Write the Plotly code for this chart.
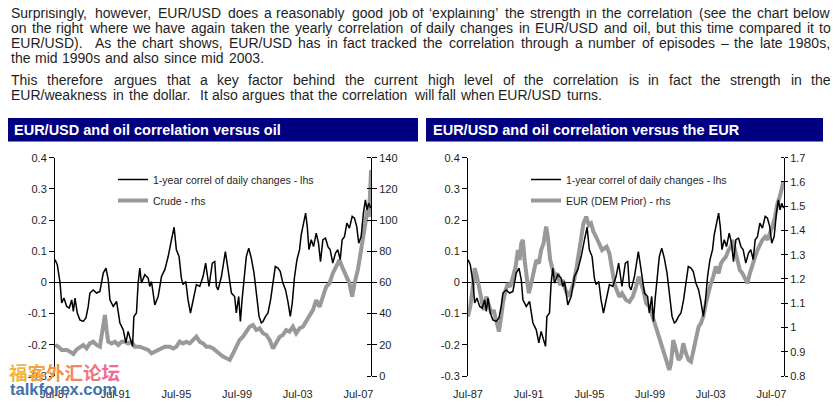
import plotly.graph_objects as go

# the page shows the figure with an 8 px body margin; the figure fills the rest of the 840x406 window
OFF = 8
W, H = 840 - OFF, 406 - OFF
FONT = "Liberation Sans, Arial, sans-serif"
TXT = "#1e1e1e"
GREY = "#999999"
NAVY = "#000080"

# ---------------- data ----------------
# 1-year correlation of daily changes EUR/USD vs oil (decimal years, value)
corr_t = [1987.50, 1987.65, 1987.83, 1987.94, 1988.09, 1988.27, 1988.44, 1988.60, 1988.71, 1988.82,
          1988.97, 1989.14, 1989.36, 1989.54, 1989.69, 1989.80, 1990.02, 1990.24, 1990.46, 1990.68,
          1990.86, 1991.01, 1991.12, 1991.34, 1991.56, 1991.78, 1992.00, 1992.17, 1992.32, 1992.43,
          1992.61, 1992.70, 1992.87, 1992.98, 1993.09, 1993.20, 1993.42, 1993.64, 1993.75, 1993.86,
          1994.08, 1994.30, 1994.52, 1994.74, 1994.96, 1995.18, 1995.35, 1995.50, 1995.68, 1995.83,
          1995.94, 1996.12, 1996.27, 1996.43, 1996.60, 1996.82, 1997.04, 1997.26, 1997.43, 1997.65,
          1997.87, 1998.03, 1998.14, 1998.25, 1998.47, 1998.58, 1998.73, 1998.91, 1999.13, 1999.34,
          1999.45, 1999.61, 1999.72, 1999.83, 1999.96, 2000.11, 2000.27, 2000.44, 2000.62, 2000.77,
          2000.95, 2001.10, 2001.21, 2001.38, 2001.54, 2001.71, 2001.87, 2002.02, 2002.20, 2002.35,
          2002.52, 2002.70, 2002.85, 2003.01, 2003.14, 2003.29, 2003.45, 2003.62, 2003.73, 2003.84,
          2004.02, 2004.13, 2004.24, 2004.39, 2004.54, 2004.72, 2004.87, 2005.00, 2005.16, 2005.33,
          2005.49, 2005.64, 2005.81, 2005.99, 2006.14, 2006.30, 2006.43, 2006.58, 2006.74, 2006.91,
          2007.09, 2007.24, 2007.39, 2007.52, 2007.68, 2007.83, 2007.96, 2008.07, 2008.18, 2008.31]
corr_v = [0.073, 0.057, -0.000, -0.066, -0.050, -0.077, -0.082, -0.056, -0.093, -0.050,
          -0.098, -0.120, -0.125, -0.114, -0.077, -0.034, -0.024, -0.034, -0.029, 0.030,
          0.046, 0.009, -0.056, -0.077, -0.061, -0.130, -0.152, -0.194, -0.157, -0.173,
          -0.205, -0.109, -0.098, -0.002, 0.046, -0.002, 0.025, 0.014, -0.013, 0.003,
          -0.072, -0.045, 0.019, 0.041, 0.083, 0.137, 0.177, 0.105, 0.083, 0.014,
          -0.007, 0.003, -0.056, -0.098, -0.056, -0.007, -0.013, 0.019, 0.062, -0.013,
          0.062, 0.067, -0.013, -0.024, 0.019, 0.057, 0.099, 0.041, -0.034, -0.045,
          -0.098, -0.045, -0.125, -0.056, 0.019, 0.083, 0.110, 0.078, 0.030, -0.034,
          -0.109, -0.130, -0.125, -0.109, -0.098, -0.056, -0.002, 0.051, 0.046, 0.035,
          -0.002, -0.024, -0.061, -0.109, -0.066, 0.019, 0.073, 0.105, 0.153, 0.179,
          0.222, 0.179, 0.105, 0.137, 0.115, 0.158, 0.126, 0.067, 0.137, 0.142,
          0.115, 0.105, 0.062, 0.094, 0.105, 0.073, 0.137, 0.147, 0.190, 0.174,
          0.212, 0.206, 0.179, 0.126, 0.147, 0.222, 0.265, 0.233, 0.254, 0.238]

# Crude oil, USD/bbl
crude_t = [1987.50, 1987.72, 1987.94, 1988.27, 1988.49, 1988.71, 1988.93, 1989.14, 1989.36, 1989.58,
           1989.80, 1990.02, 1990.24, 1990.46, 1990.57, 1990.68, 1990.79, 1990.90, 1991.01, 1991.23,
           1991.45, 1991.67, 1991.89, 1992.11, 1992.32, 1992.54, 1992.76, 1993.09, 1993.42, 1993.64,
           1993.86, 1994.08, 1994.30, 1994.52, 1994.74, 1995.07, 1995.29, 1995.50, 1995.72, 1995.94,
           1996.16, 1996.38, 1996.60, 1996.82, 1997.04, 1997.26, 1997.48, 1997.70, 1997.92, 1998.14,
           1998.36, 1998.58, 1998.80, 1999.02, 1999.24, 1999.45, 1999.67, 1999.89, 2000.11, 2000.33,
           2000.55, 2000.77, 2000.99, 2001.21, 2001.43, 2001.65, 2001.87, 2002.09, 2002.31, 2002.52,
           2002.74, 2002.96, 2003.18, 2003.40, 2003.62, 2003.84, 2004.06, 2004.28, 2004.50, 2004.72,
           2004.94, 2005.16, 2005.38, 2005.59, 2005.81, 2006.03, 2006.25, 2006.47, 2006.69, 2006.91,
           2007.09, 2007.24, 2007.46, 2007.68, 2007.83, 2007.96, 2008.07, 2008.18, 2008.27, 2008.33]
crude_v = [19.9, 18.8, 16.7, 16.7, 15.6, 14.1, 17.1, 18.8, 19.9, 17.7,
           20.9, 22.0, 19.9, 18.8, 25.2, 33.8, 39.1, 29.5, 22.0, 20.9,
           22.0, 19.9, 22.0, 22.0, 20.9, 22.0, 18.8, 18.8, 17.7, 16.7,
           14.5, 15.6, 16.7, 17.7, 18.8, 18.8, 17.7, 18.8, 22.0, 20.9,
           22.0, 20.9, 23.1, 25.2, 22.0, 20.9, 18.8, 18.8, 17.7, 15.6,
           14.1, 12.4, 11.3, 10.3, 14.5, 18.8, 23.1, 25.2, 28.4, 31.6,
           32.7, 29.5, 30.6, 27.4, 26.3, 23.1, 17.7, 22.0, 25.2, 26.3,
           29.5, 28.4, 31.6, 27.4, 30.6, 31.6, 34.8, 38.0, 42.3, 48.7,
           44.4, 50.9, 57.3, 59.4, 65.8, 70.1, 74.4, 69.0, 63.7, 59.4,
           50.9, 59.4, 67.9, 80.8, 87.2, 97.9, 106.4, 102.1, 117.1, 132.1]

# EUR/USD (DEM prior)
eur_t = [1987.50, 1987.65, 1987.79, 1987.94, 1988.09, 1988.27, 1988.38, 1988.53, 1988.71, 1988.88,
         1989.04, 1989.19, 1989.36, 1989.54, 1989.69, 1989.80, 1989.98, 1990.13, 1990.29, 1990.46,
         1990.64, 1990.79, 1990.90, 1991.01, 1991.12, 1991.23, 1991.34, 1991.51, 1991.67, 1991.82,
         1992.00, 1992.17, 1992.32, 1992.48, 1992.65, 1992.76, 1992.92, 1993.09, 1993.27, 1993.42,
         1993.57, 1993.75, 1993.93, 1994.14, 1994.30, 1994.45, 1994.63, 1994.74, 1994.85, 1994.96,
         1995.11, 1995.29, 1995.46, 1995.61, 1995.77, 1995.94, 1996.12, 1996.34, 1996.49, 1996.64,
         1996.82, 1997.00, 1997.15, 1997.30, 1997.48, 1997.65, 1997.92, 1998.14, 1998.36, 1998.58,
         1998.75, 1998.91, 1999.06, 1999.24, 1999.45, 1999.67, 1999.89, 2000.11, 2000.33, 2000.55,
         2000.77, 2000.88, 2001.03, 2001.21, 2001.38, 2001.54, 2001.69, 2001.87, 2002.04, 2002.20,
         2002.35, 2002.52, 2002.70, 2002.85, 2003.01, 2003.18, 2003.36, 2003.51, 2003.66, 2003.84,
         2004.02, 2004.17, 2004.32, 2004.50, 2004.67, 2004.83, 2004.94, 2005.11, 2005.27, 2005.42,
         2005.59, 2005.77, 2005.92, 2006.08, 2006.25, 2006.43, 2006.58, 2006.74, 2006.91, 2007.09,
         2007.24, 2007.39, 2007.57, 2007.74, 2007.90, 2008.05, 2008.18, 2008.29, 2008.33]
eur_v = [1.045, 1.086, 1.154, 1.244, 1.209, 1.154, 1.100, 1.072, 1.127, 1.086,
         1.058, 1.072, 1.031, 0.983, 1.045, 1.100, 1.154, 1.182, 1.168, 1.209,
         1.251, 1.319, 1.278, 1.347, 1.361, 1.278, 1.209, 1.141, 1.182, 1.223,
         1.278, 1.264, 1.319, 1.347, 1.416, 1.374, 1.278, 1.237, 1.209, 1.223,
         1.175, 1.196, 1.154, 1.127, 1.154, 1.182, 1.237, 1.278, 1.319, 1.374,
         1.429, 1.457, 1.422, 1.429, 1.395, 1.374, 1.347, 1.319, 1.326, 1.333,
         1.306, 1.223, 1.182, 1.154, 1.127, 1.141, 1.113, 1.106, 1.127, 1.168,
         1.209, 1.182, 1.154, 1.100, 1.086, 1.045, 1.003, 0.962, 0.921, 0.880,
         0.825, 0.852, 0.948, 0.907, 0.866, 0.880, 0.935, 0.893, 0.866, 0.859,
         0.907, 0.962, 1.003, 1.017, 1.045, 1.100, 1.154, 1.182, 1.209, 1.251,
         1.223, 1.264, 1.278, 1.292, 1.319, 1.333, 1.361, 1.319, 1.278, 1.237,
         1.223, 1.196, 1.182, 1.223, 1.264, 1.292, 1.319, 1.340, 1.361, 1.374,
         1.361, 1.388, 1.416, 1.457, 1.512, 1.539, 1.580, 1.601, 1.580]

x_tick_vals = [1987.5, 1991.5, 1995.5, 1999.5, 2003.5, 2007.5]
x_tick_text = ["Jul-87", "Jul-91", "Jul-95", "Jul-99", "Jul-03", "Jul-07"]
x_range = [1987.5, 2008.33]

lhs_vals = [0.4, 0.3, 0.2, 0.1, 0.0, -0.1, -0.2, -0.3]
lhs_text = ["0.4", "0.3", "0.2", "0.1", "0", "-0.1", "-0.2", "-0.3"]
crude_ticks = [0, 20, 40, 60, 80, 100, 120, 140]
crude_text = ["0", "20", "40", "60", "80", "100", "120", "140"]
eur_ticks = [0.8, 0.9, 1.0, 1.1, 1.2, 1.3, 1.4, 1.5, 1.6, 1.7]
eur_text = ["0.8", "0.9", "1", "1.1", "1.2", "1.3", "1.4", "1.5", "1.6", "1.7"]

titles = ["EUR/USD and oil correlation versus oil", "EUR/USD and oil correlation versus the EUR"]
corr_name = "1-year correl of daily changes - lhs"
crude_name = "Crude - rhs"
eur_name = "EUR (DEM Prior) - rhs"

para1 = [
    "Surprisingly, however, EUR/USD does a reasonably good job of \u2018explaining\u2019 the strength in the correlation (see the chart below",
    "on the right where we have again taken the yearly correlation of daily changes in EUR/USD and oil, but this time compared it to",
    "EUR/USD).  As the chart shows, EUR/USD has in fact tracked the correlation through a number of episodes \u2013 the late 1980s,",
    "the mid 1990s and also since mid 2003.",
]
para2 = [
    "This therefore argues that a key factor behind the current high level of the correlation is in fact the strength in the",
    "EUR/weakness in the dollar.  It also argues that the correlation will fall when EUR/USD turns.",
]

# ---------------- layout helpers (window pixel -> paper fraction) ----------------
def fx(x):
    return (x - OFF) / W


def fy(y):
    return 1 - (y - OFF) / H


AW = {' ': 278, 'a': 556, 'b': 556, 'c': 500, 'd': 556, 'e': 556, 'f': 278, 'g': 556, 'h': 556,
      'i': 222, 'j': 222, 'k': 500, 'l': 222, 'm': 833, 'n': 556, 'o': 556, 'p': 556, 'q': 556,
      'r': 333, 's': 500, 't': 278, 'u': 556, 'v': 500, 'w': 722, 'x': 500, 'y': 500, 'z': 500,
      'A': 667, 'B': 667, 'C': 722, 'D': 722, 'E': 667, 'F': 611, 'G': 778, 'H': 722, 'I': 278,
      'J': 500, 'K': 667, 'L': 556, 'M': 833, 'N': 722, 'O': 778, 'P': 667, 'Q': 778, 'R': 722,
      'S': 667, 'T': 611, 'U': 722, 'V': 667, 'W': 944, 'X': 667, 'Y': 667, 'Z': 611,
      ',': 278, '.': 278, '/': 278, '(': 333, ')': 333, '\u2018': 222, '\u2019': 222,
      '\u2013': 556, '-': 333}


def tw(s, hs):
    return sum(AW.get(ch, 556) for ch in s) / 1000.0 * hs


annotations = []
FS = 14
HS = 14.4


def place_line(line, yc, justify, x0=10, x1=830):
    toks = line.split(' ')
    ws = [tw(t, HS) for t in toks]
    ngap = len(toks) - 1
    gap = AW[' '] / 1000.0 * HS
    if justify and ngap > 0:
        gap = (x1 - x0 - sum(ws)) / ngap
    x = x0
    for t, w in zip(toks, ws):
        if t:
            annotations.append(dict(text=t, x=fx(x - 1), y=fy(yc), xref="paper", yref="paper",
                                    xanchor="left", yanchor="middle", showarrow=False,
                                    font=dict(size=FS, color=TXT, family=FONT)))
        x += w + gap


line_y1 = [12.5, 27.7, 42.8, 58.2]
line_y2 = [80.0, 95.2]
for i, ln in enumerate(para1):
    place_line(ln, line_y1[i], i < len(para1) - 1)
for i, ln in enumerate(para2):
    place_line(ln, line_y2[i], i < len(para2) - 1)

# headers
shapes = [
    dict(type="rect", xref="paper", yref="paper", x0=fx(8), x1=fx(418), y0=fy(141.5), y1=fy(118),
         fillcolor=NAVY, line=dict(width=0), layer="below"),
    dict(type="rect", xref="paper", yref="paper", x0=fx(426), x1=fx(823), y0=fy(141.5), y1=fy(118),
         fillcolor=NAVY, line=dict(width=0), layer="below"),
]
for tx, t in zip([12, 431], titles):
    annotations.append(dict(text="<b>%s</b>" % t, x=fx(tx), y=fy(130.5), xref="paper", yref="paper",
                            xanchor="left", yanchor="middle", showarrow=False,
                            font=dict(size=14.5, color="white", family=FONT)))

# watermark
wm_chars = "福客外汇论坛"
wm_cols = ["#f4b63a", "#f3a640", "#f29448", "#f2855f", "#f07680", "#ee6c94"]
wm = "".join("<span style='color:%s'>%s</span>" % (c, ch) for ch, c in zip(wm_chars, wm_cols))
annotations.append(dict(text="<b>%s</b>" % wm, x=fx(64), y=fy(372), xref="paper", yref="paper",
                        xanchor="center", yanchor="middle", showarrow=False,
                        font=dict(size=18.5, family="Noto Sans CJK SC")))
annotations.append(dict(text="<b>talkforex.com</b>", x=fx(63), y=fy(389), xref="paper", yref="paper",
                        xanchor="center", yanchor="middle", showarrow=False,
                        font=dict(size=16.5, color="#3f70aa", family=FONT)))

# ---------------- traces ----------------
fig = go.Figure()
# left chart
fig.add_trace(go.Scatter(x=crude_t, y=crude_v, xaxis="x", yaxis="y", mode="lines",
                         line=dict(color=GREY, width=4), name=crude_name,
                         legend="legend", legendgroup="c", legendrank=2, hoverinfo="skip"))
fig.add_trace(go.Scatter(x=crude_t, y=crude_v, xaxis="x", yaxis="y5", mode="lines",
                         line=dict(color="rgba(0,0,0,0)", width=1), showlegend=False, hoverinfo="skip"))
fig.add_trace(go.Scatter(x=corr_t, y=corr_v, xaxis="x", yaxis="y2", mode="lines",
                         line=dict(color="black", width=1.5), name=corr_name,
                         legend="legend", legendgroup="k", legendrank=1, hoverinfo="skip"))
# right chart
fig.add_trace(go.Scatter(x=eur_t, y=eur_v, xaxis="x2", yaxis="y3", mode="lines",
                         line=dict(color=GREY, width=4), name=eur_name,
                         legend="legend2", legendgroup="e", legendrank=2, hoverinfo="skip"))
fig.add_trace(go.Scatter(x=eur_t, y=eur_v, xaxis="x2", yaxis="y6", mode="lines",
                         line=dict(color="rgba(0,0,0,0)", width=1), showlegend=False, hoverinfo="skip"))
fig.add_trace(go.Scatter(x=corr_t, y=corr_v, xaxis="x2", yaxis="y4", mode="lines",
                         line=dict(color="black", width=1.5), name=corr_name,
                         legend="legend2", legendgroup="k2", legendrank=1, hoverinfo="skip"))

ydom = [fy(376), fy(157.7)]
tickfont = dict(size=11, color=TXT, family=FONT)


def xax(dom, anchor):
    return dict(domain=dom, anchor=anchor, range=x_range, tickmode="array", tickvals=x_tick_vals,
                ticktext=x_tick_text, ticks="", showline=False, showgrid=False, zeroline=False,
                tickfont=tickfont, ticklabelstandoff=10, fixedrange=True, automargin=False)


def rax(rng, vals, text, standoff, ticklen, anchor):
    return dict(domain=ydom, range=rng, tickmode="array", tickvals=vals, ticktext=text, side="right",
                anchor=anchor, ticks="outside", ticklen=ticklen, tickcolor="black", showline=True,
                linecolor="black", linewidth=1, showgrid=False, zeroline=False, tickfont=tickfont,
                ticklabelstandoff=standoff, fixedrange=True, automargin=False)


def lax(overlay, anchor):
    return dict(domain=ydom, range=[-0.3, 0.4], tickmode="array", tickvals=lhs_vals, ticktext=lhs_text,
                side="left", overlaying=overlay, anchor=anchor, ticks="outside", ticklen=5,
                tickcolor="black", showline=True, linecolor="black", linewidth=1, showgrid=False,
                zeroline=True, zerolinecolor="black", zerolinewidth=1, tickfont=tickfont,
                ticklabelstandoff=0, fixedrange=True, automargin=False)


def dummy(overlay, rng, vals, pos, ticklen):
    return dict(domain=ydom, range=rng, tickmode="array", tickvals=vals, side="left", overlaying=overlay,
                anchor="free", position=pos, ticks="outside", ticklen=ticklen, tickcolor="black",
                showticklabels=False, showline=False, showgrid=False, zeroline=False, fixedrange=True,
                automargin=False)


xl = [fx(55), fx(371)]
xr = [fx(468), fx(784)]

fig.update_layout(
    template="none",
    width=W, height=H, margin=dict(l=0, r=0, t=0, b=0, pad=0), autosize=False,
    paper_bgcolor="white", plot_bgcolor="rgba(0,0,0,0)",
    font=dict(family=FONT, color=TXT),
    xaxis=xax(xl, "y"),
    yaxis=rax([0, 140], crude_ticks, crude_text, 0, 5, "x"),
    yaxis2=lax("y", "x"),
    yaxis5=dummy("y", [0, 140], crude_ticks, xl[1], 4),
    xaxis2=xax(xr, "y3"),
    yaxis3=rax([0.8, 1.7], eur_ticks, eur_text, 0, 3, "x2"),
    yaxis4=lax("y3", "x2"),
    yaxis6=dummy("y3", [0.8, 1.7], eur_ticks, xr[1], 3),
    legend=dict(x=fx(113), y=fy(165), xanchor="left", yanchor="top", bgcolor="rgba(0,0,0,0)",
                font=dict(size=10.5, color=TXT, family=FONT), traceorder="grouped", tracegroupgap=2),
    legend2=dict(x=fx(526), y=fy(165), xanchor="left", yanchor="top", bgcolor="rgba(0,0,0,0)",
                 font=dict(size=10.5, color=TXT, family=FONT), traceorder="grouped", tracegroupgap=2),
    shapes=shapes,
    annotations=annotations,
    hovermode=False,
)

fig.write_html("out.html")
